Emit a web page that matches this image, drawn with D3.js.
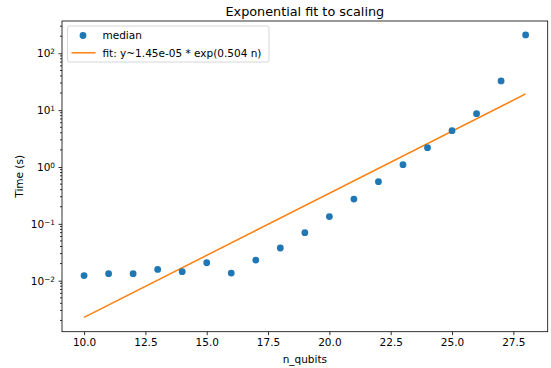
<!DOCTYPE html>
<html>
<head>
<meta charset="utf-8">
<script src="https://cdn.jsdelivr.net/npm/d3@7"></script>
<style>
    body { margin: 0; background: #fff; }
    text { font-family: "DejaVu Sans", sans-serif; fill: #000; }
    .axis path, .axis line { stroke: #000; stroke-width: 0.8; }
</style>
</head>
<body>
<svg id="plate" width="551" height="368"></svg>
<script>
// median timings per qubit count
var nQubits = [10, 11, 12, 13, 14, 15, 16, 17, 18, 19, 20, 21, 22, 23, 24, 25, 26, 27, 28];
var medianTime = [0.0123, 0.0133, 0.0133, 0.0158, 0.0144, 0.0207, 0.0136, 0.0231, 0.0376, 0.070,
    0.134, 0.273, 0.552, 1.10, 2.19, 4.36, 8.67, 32.6, 210];
// fit line end points (straight on log axis)
var fitN = [10, 28];
var fitTime = [0.00226, 19.3];
var xTicks = [10, 12.5, 15, 17.5, 20, 22.5, 25, 27.5];
var yTicks = [1e-2, 1e-1, 1e0, 1e1, 1e2];
var yExp = ['\u22122', '\u22121', '0', '1', '2'];
var titleText = 'Exponential fit to scaling';
var fitLabel = 'fit: y~1.45e-05 * exp(0.504 n)';

function runAll() {
    var svgWidth = 551;
    var svgHeight = 368;
    var margin = {top: 21, right: 3.3, bottom: 36.3, left: 62};
    var width = svgWidth - margin.left - margin.right;
    var height = svgHeight - margin.top - margin.bottom;
    var fs = '10.5px';

    var x = d3.scaleLinear().domain([9.1, 28.9]).range([0, width]);
    var y = d3.scaleLog().domain([Math.pow(10, -2.897), Math.pow(10, 2.568)]).range([height, 0]);

    var svg = d3.select('#plate')
        .append('g')
        .attr('transform', 'translate(' + margin.left + ',' + margin.top + ')');

    // minor ticks on the log axis
    var minor = [];
    for (var e = -3; e <= 2; e++) {
        for (var m = 2; m <= 9; m++) {
            var v = m * Math.pow(10, e);
            if (v >= y.domain()[0] && v <= y.domain()[1]) minor.push(v);
        }
    }
    svg.append('g')
        .attr('class', 'axis minor')
        .selectAll('line')
        .data(minor)
        .enter().append('line')
        .attr('x1', -2)
        .attr('x2', 0)
        .attr('y1', function(d) { return y(d); })
        .attr('y2', function(d) { return y(d); });

    // Add the X Axis
    var xAxis = svg.append('g')
        .attr('class', 'axis bottom')
        .attr('transform', 'translate(0,' + height + ')')
        .call(d3.axisBottom(x).tickValues(xTicks).tickSize(3.5).tickPadding(3.5)
            .tickFormat(d3.format('.1f')));
    xAxis.select('.domain').remove();
    xAxis.selectAll('text').style('font-size', fs).attr('fill', '#000');

    // Add the Y Axis
    var yAxis = svg.append('g')
        .attr('class', 'axis left')
        .call(d3.axisLeft(y).tickValues(yTicks).tickSize(3.5).tickPadding(3.5).tickFormat(''));
    yAxis.select('.domain').remove();
    yAxis.selectAll('.tick').each(function(d, i) {
        var t = d3.select(this).append('text')
            .attr('x', -7)
            .attr('dy', '0.35em')
            .attr('text-anchor', 'end')
            .style('font-size', fs);
        t.append('tspan').text('10');
        t.append('tspan').attr('dy', '-0.45em').style('font-size', '7.3px').text(yExp[i]);
    });

    // frame
    svg.append('rect')
        .attr('width', width)
        .attr('height', height)
        .attr('fill', 'none')
        .attr('stroke', '#000')
        .attr('stroke-width', 0.8);

    // fit line
    var fitData = fitN.map(function(n, i) { return {n: n, t: fitTime[i]}; });
    svg.append('path')
        .datum(fitData)
        .attr('fill', 'none')
        .attr('stroke', '#ff7f0e')
        .attr('stroke-width', 1.5)
        .attr('d', d3.line()
            .x(function(d) { return x(d.n); })
            .y(function(d) { return y(d.t); }));

    // median points
    svg.append('g')
        .selectAll('circle')
        .data(nQubits)
        .enter().append('circle')
        .attr('cx', function(d) { return x(d); })
        .attr('cy', function(d, i) { return y(medianTime[i]); })
        .attr('r', 3.4)
        .attr('fill', '#1f77b4');

    // legend
    var legend = svg.append('g').attr('transform', 'translate(5.5,5)');
    legend.append('rect')
        .attr('width', 201.5)
        .attr('height', 36)
        .attr('rx', 2)
        .attr('fill', '#fff')
        .attr('fill-opacity', 0.8)
        .attr('stroke', '#ccc')
        .attr('stroke-width', 0.8);
    legend.append('circle')
        .attr('cx', 15.5)
        .attr('cy', 9.5)
        .attr('r', 3.4)
        .attr('fill', '#1f77b4');
    legend.append('text')
        .attr('x', 35)
        .attr('y', 13.2)
        .style('font-size', fs)
        .text('median');
    legend.append('line')
        .attr('x1', 4)
        .attr('x2', 28)
        .attr('y1', 26.8)
        .attr('y2', 26.8)
        .attr('stroke', '#ff7f0e')
        .attr('stroke-width', 1.5);
    legend.append('text')
        .attr('x', 35)
        .attr('y', 30.7)
        .style('font-size', fs)
        .text(fitLabel);

    // title and axis labels
    svg.append('text')
        .attr('x', width / 2)
        .attr('y', -5.5)
        .attr('text-anchor', 'middle')
        .style('font-size', '12.8px')
        .text(titleText);
    svg.append('text')
        .attr('x', width / 2)
        .attr('y', height + 31.5)
        .attr('text-anchor', 'middle')
        .style('font-size', fs)
        .text('n_qubits');
    svg.append('text')
        .attr('transform', 'translate(' + (-39.5) + ',' + (height / 2) + ') rotate(-90)')
        .attr('text-anchor', 'middle')
        .style('font-size', fs)
        .text('Time (s)');
}
runAll();
</script>
</body>
</html>
